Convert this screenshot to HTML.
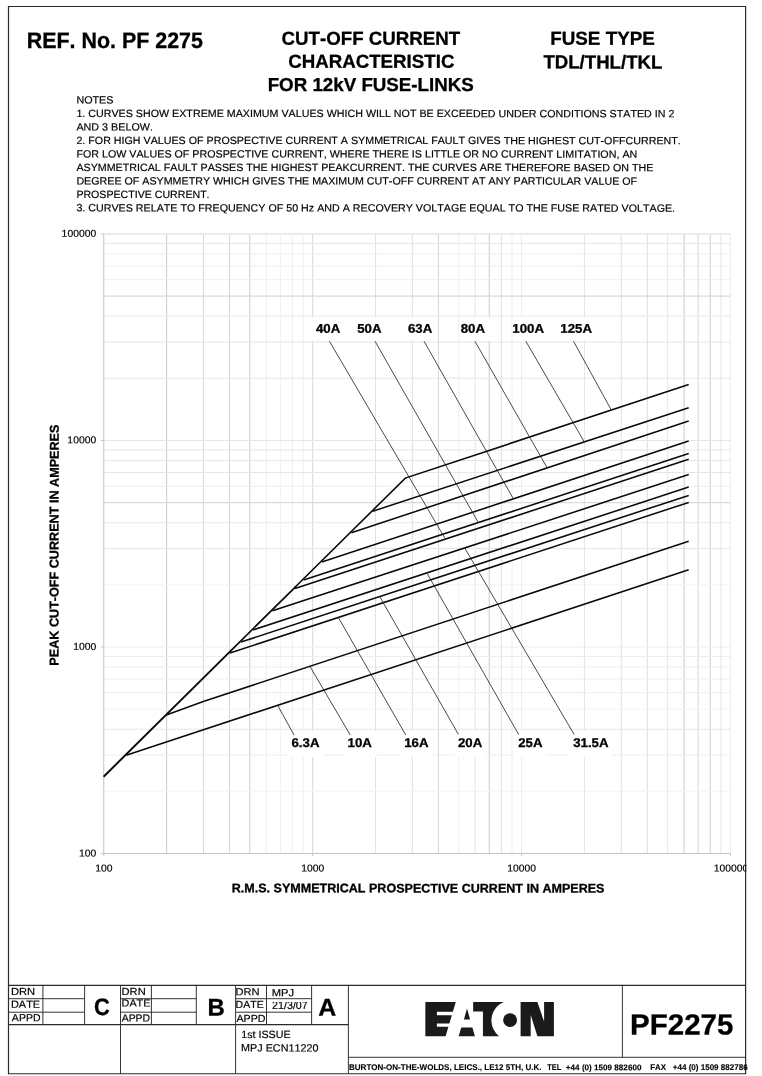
<!DOCTYPE html>
<html lang="en"><head><meta charset="utf-8"><title>PF2275 Cut-off current characteristic</title>
<style>
html,body{margin:0;padding:0;background:#fff;}
body{width:762px;height:1076px;overflow:hidden;position:relative;}
svg{position:absolute;left:0;top:0;display:block;}
text{font-family:"Liberation Sans",sans-serif;fill:#000;font-kerning:none;white-space:pre;text-rendering:geometricPrecision;stroke:#000;stroke-width:0.18px;}
.b{font-weight:bold;stroke-width:0.3px;}
</style></head><body>
<svg width="762" height="1076" viewBox="0 0 762 1076">
<rect x="0" y="0" width="762" height="1076" fill="#fff"/>
<g fill="none" stroke-width="0.85">
<path d="M166.64 233.95V853.50" stroke="#c2c2c2"/>
<path d="M203.43 233.95V853.50" stroke="#d0d0d0"/>
<path d="M229.53 233.95V853.50" stroke="#d0d0d0"/>
<path d="M249.78 233.95V853.50" stroke="#c2c2c2"/>
<path d="M266.32 233.95V853.50" stroke="#ebebeb"/>
<path d="M280.31 233.95V853.50" stroke="#ebebeb"/>
<path d="M292.42 233.95V853.50" stroke="#ebebeb"/>
<path d="M303.11 233.95V853.50" stroke="#ebebeb"/>
<path d="M312.67 233.95V853.50" stroke="#d0d0d0"/>
<path d="M375.56 233.95V853.50" stroke="#d9d9d9"/>
<path d="M412.35 233.95V853.50" stroke="#d9d9d9"/>
<path d="M438.45 233.95V853.50" stroke="#d0d0d0"/>
<path d="M458.69 233.95V853.50" stroke="#ebebeb"/>
<path d="M475.24 233.95V853.50" stroke="#e2e2e2"/>
<path d="M489.22 233.95V853.50" stroke="#c2c2c2"/>
<path d="M501.34 233.95V853.50" stroke="#d9d9d9"/>
<path d="M512.02 233.95V853.50" stroke="#ebebeb"/>
<path d="M521.58 233.95V853.50" stroke="#ebebeb"/>
<path d="M584.47 233.95V853.50" stroke="#e2e2e2"/>
<path d="M621.26 233.95V853.50" stroke="#d9d9d9"/>
<path d="M647.36 233.95V853.50" stroke="#d9d9d9"/>
<path d="M667.61 233.95V853.50" stroke="#e2e2e2"/>
<path d="M684.15 233.95V853.50" stroke="#c2c2c2"/>
<path d="M698.14 233.95V853.50" stroke="#d0d0d0"/>
<path d="M710.25 233.95V853.50" stroke="#c2c2c2"/>
<path d="M720.94 233.95V853.50" stroke="#e2e2e2"/>
<path d="M730.50 233.95V853.50" stroke="#ebebeb"/>
</g>
<g fill="none" stroke-width="1.05">
<path d="M103.75 233.95H730.50" stroke="#e6e6e6" stroke-width="1.4"/>
<path d="M103.75 243.40H730.50" stroke="#e6e6e6"/>
<path d="M103.75 253.96H730.50" stroke="#ededed"/>
<path d="M103.75 265.94H730.50" stroke="#ededed"/>
<path d="M103.75 279.77H730.50" stroke="#ededed"/>
<path d="M103.75 296.12H730.50" stroke="#dadada"/>
<path d="M103.75 316.13H730.50" stroke="#ededed"/>
<path d="M103.75 341.93H730.50" stroke="#e6e6e6"/>
<path d="M103.75 378.30H730.50" stroke="#e6e6e6"/>
<path d="M103.75 440.47H730.50" stroke="#e6e6e6"/>
<path d="M103.75 449.92H730.50" stroke="#e6e6e6"/>
<path d="M103.75 460.48H730.50" stroke="#e6e6e6"/>
<path d="M103.75 472.46H730.50" stroke="#e6e6e6"/>
<path d="M103.75 486.28H730.50" stroke="#ededed"/>
<path d="M103.75 502.63H730.50" stroke="#dadada"/>
<path d="M103.75 522.65H730.50" stroke="#e6e6e6"/>
<path d="M103.75 548.45H730.50" stroke="#e6e6e6"/>
<path d="M103.75 584.82H730.50" stroke="#f3f3f3"/>
<path d="M103.75 646.98H730.50" stroke="#ededed"/>
<path d="M103.75 656.43H730.50" stroke="#ededed"/>
<path d="M103.75 667.00H730.50" stroke="#ededed"/>
<path d="M103.75 678.97H730.50" stroke="#ededed"/>
<path d="M103.75 692.80H730.50" stroke="#ededed"/>
<path d="M103.75 709.15H730.50" stroke="#f3f3f3"/>
<path d="M103.75 729.16H730.50" stroke="#e6e6e6"/>
<path d="M103.75 754.97H730.50" stroke="#ededed"/>
<path d="M103.75 791.33H730.50" stroke="#f3f3f3"/>
</g>
<g fill="none" stroke="#c4c4c4" stroke-width="1">
<path d="M103.75 233.95V853.50"/>
<path d="M103.75 853.50H730.50"/>
<path d="M100.75 233.95H103.75"/>
<path d="M103.75 853.50V856.00"/>
<path d="M100.75 440.47H103.75"/>
<path d="M312.67 853.50V856.00"/>
<path d="M100.75 646.98H103.75"/>
<path d="M521.58 853.50V856.00"/>
<path d="M100.75 853.50H103.75"/>
<path d="M730.50 853.50V856.00"/>
</g>
<rect x="311.5" y="317.6" width="32.0" height="23.2" fill="#fff"/>
<rect x="355" y="317.6" width="28" height="23.2" fill="#fff"/>
<rect x="405" y="317.6" width="31" height="23.2" fill="#fff"/>
<rect x="460" y="317.6" width="36" height="23.2" fill="#fff"/>
<rect x="512.8" y="317.6" width="34.200000000000045" height="23.2" fill="#fff"/>
<rect x="558" y="317.6" width="38" height="23.2" fill="#fff"/>
<rect x="288" y="731" width="36" height="26" fill="#fff"/>
<rect x="344" y="731" width="32" height="26" fill="#fff"/>
<rect x="401" y="731" width="31" height="26" fill="#fff"/>
<rect x="455" y="731" width="31" height="26" fill="#fff"/>
<rect x="514" y="731" width="32" height="26" fill="#fff"/>
<rect x="569" y="731" width="43" height="26" fill="#fff"/>
<g fill="none" stroke="#0a0a0a" stroke-width="1.55" stroke-linecap="butt" stroke-linejoin="miter">
<path d="M295 587.27L405.3 478.1L688.7 384.6" stroke-width="1.6"/>
<path d="M230 651.60L296 586.28" stroke-width="1.75"/>
<path d="M103.6 776.7L231 650.61" stroke-width="1.95"/>
<path d="M372.8 511.2L688.7 407.7"/>
<path d="M351.3 532.8L688.7 420.9"/>
<path d="M321.8 562.0L688.7 441.0"/>
<path d="M303.6 579.9L688.7 453.5"/>
<path d="M295.0 588.6L688.7 459.2"/>
<path d="M272.4 610.8L688.7 474.6"/>
<path d="M253.1 629.9L688.7 487.1"/>
<path d="M241.0 642.0L688.7 495.4"/>
<path d="M230.0 653.0L688.7 502.4"/>
<path d="M166.3 714.9L203.3 701.5L688.7 541.2"/>
<path d="M126.2 755.2L688.7 569.8"/>
</g>
<g fill="none" stroke="#1c1c1c" stroke-width="0.8">
<path d="M329.4 341.2L445.0 538.4"/>
<path d="M375.0 341.2L478.5 522.8"/>
<path d="M424.0 341.2L513.3 498.7"/>
<path d="M474.9 341.2L546.7 467.0"/>
<path d="M525.8 341.2L584.2 441.7"/>
<path d="M573.5 341.2L611.4 410.2"/>
<path d="M277.5 705.0L294.1 735.1"/>
<path d="M309.9 666.3L350.3 735.1"/>
<path d="M338.3 617.4L405.8 735.1"/>
<path d="M379.7 596.5L458.4 734.4"/>
<path d="M427.1 573.4L518.7 734.6"/>
<path d="M464.5 547.7L574.2 734.6"/>
</g>
<text transform="matrix(1 0.0005 0 1 0 -0.1641)" class="b" x="316.00" y="332.80" font-size="12.6" textLength="24.27" lengthAdjust="spacingAndGlyphs">40A</text>
<text transform="matrix(1 0.0005 0 1 0 -0.1847)" class="b" x="357.19" y="332.80" font-size="12.6" textLength="24.27" lengthAdjust="spacingAndGlyphs">50A</text>
<text transform="matrix(1 0.0005 0 1 0 -0.2101)" class="b" x="408.02" y="332.80" font-size="12.6" textLength="24.27" lengthAdjust="spacingAndGlyphs">63A</text>
<text transform="matrix(1 0.0005 0 1 0 -0.2365)" class="b" x="460.78" y="332.80" font-size="12.6" textLength="24.27" lengthAdjust="spacingAndGlyphs">80A</text>
<text transform="matrix(1 0.0005 0 1 0 -0.2641)" class="b" x="512.37" y="332.80" font-size="12.6" textLength="31.63" lengthAdjust="spacingAndGlyphs">100A</text>
<text transform="matrix(1 0.0005 0 1 0 -0.2881)" class="b" x="560.37" y="332.80" font-size="12.6" textLength="31.63" lengthAdjust="spacingAndGlyphs">125A</text>
<text transform="matrix(1 0.0005 0 1 0 -0.1527)" class="b" x="291.52" y="747.10" font-size="12.6" textLength="27.95" lengthAdjust="spacingAndGlyphs">6.3A</text>
<text transform="matrix(1 0.0005 0 1 0 -0.1799)" class="b" x="347.57" y="747.10" font-size="12.6" textLength="24.27" lengthAdjust="spacingAndGlyphs">10A</text>
<text transform="matrix(1 0.0005 0 1 0 -0.2082)" class="b" x="404.27" y="747.10" font-size="12.6" textLength="24.27" lengthAdjust="spacingAndGlyphs">16A</text>
<text transform="matrix(1 0.0005 0 1 0 -0.2350)" class="b" x="457.94" y="747.10" font-size="12.6" textLength="24.27" lengthAdjust="spacingAndGlyphs">20A</text>
<text transform="matrix(1 0.0005 0 1 0 -0.2652)" class="b" x="518.24" y="747.10" font-size="12.6" textLength="24.27" lengthAdjust="spacingAndGlyphs">25A</text>
<text transform="matrix(1 0.0005 0 1 0 -0.2954)" class="b" x="573.20" y="747.10" font-size="12.6" textLength="35.30" lengthAdjust="spacingAndGlyphs">31.5A</text>
<text transform="matrix(1 0.0005 0 1 0 -0.0395)" x="61.60" y="236.85" font-size="10" textLength="34.70" lengthAdjust="spacingAndGlyphs">100000</text>
<text transform="matrix(1 0.0005 0 1 0 -0.0409)" x="67.39" y="443.37" font-size="10" textLength="28.92" lengthAdjust="spacingAndGlyphs">10000</text>
<text transform="matrix(1 0.0005 0 1 0 -0.0424)" x="73.17" y="649.88" font-size="10" textLength="23.14" lengthAdjust="spacingAndGlyphs">1000</text>
<text transform="matrix(1 0.0005 0 1 0 -0.0438)" x="78.95" y="856.40" font-size="10" textLength="17.35" lengthAdjust="spacingAndGlyphs">100</text>
<text transform="matrix(1 0.0005 0 1 0 -0.0519)" x="95.17" y="871.4" font-size="10" textLength="17.35" lengthAdjust="spacingAndGlyphs">100</text>
<text transform="matrix(1 0.0005 0 1 0 -0.1564)" x="301.20" y="871.4" font-size="10" textLength="23.14" lengthAdjust="spacingAndGlyphs">1000</text>
<text transform="matrix(1 0.0005 0 1 0 -0.2608)" x="507.22" y="871.4" font-size="10" textLength="28.92" lengthAdjust="spacingAndGlyphs">10000</text>
<clipPath id="rc"><rect x="700" y="860" width="46.4" height="16"/></clipPath>
<text transform="matrix(1 0.0005 0 1 0 -0.3655)" x="713.65" y="871.4" font-size="10" textLength="34.70" lengthAdjust="spacingAndGlyphs" clip-path="url(#rc)">100000</text>
<text transform="matrix(1 0.0005 0 1 0 -0.2091)" class="b" x="231.76" y="892.40" font-size="12.4" textLength="372.73" lengthAdjust="spacingAndGlyphs">R.M.S. SYMMETRICAL PROSPECTIVE CURRENT IN AMPERES</text>
<text class="b" transform="translate(58.6 664.8) rotate(-90) matrix(1 0.0005 0 1 0 -0.0598)" x="-0.84" y="0" font-size="12.8" textLength="241.04" lengthAdjust="spacingAndGlyphs">PEAK CUT-OFF CURRENT IN AMPERES</text>
<text transform="matrix(1 0.0005 0 1 0 -0.0574)" class="b" x="26.67" y="48.30" font-size="22.3" textLength="176.23" lengthAdjust="spacingAndGlyphs">REF. No. PF 2275</text>
<text transform="matrix(1 0.0005 0 1 0 -0.1854)" class="b" x="281.53" y="44.70" font-size="18.8" textLength="178.67" lengthAdjust="spacingAndGlyphs">CUT-OFF CURRENT</text>
<text transform="matrix(1 0.0005 0 1 0 -0.1856)" class="b" x="288.13" y="67.80" font-size="18.8" textLength="166.28" lengthAdjust="spacingAndGlyphs">CHARACTERISTIC</text>
<text transform="matrix(1 0.0005 0 1 0 -0.1854)" class="b" x="267.65" y="91.00" font-size="18.8" textLength="206.19" lengthAdjust="spacingAndGlyphs">FOR 12kV FUSE-LINKS</text>
<text transform="matrix(1 0.0005 0 1 0 -0.3013)" class="b" x="550.24" y="44.80" font-size="18.8" textLength="104.59" lengthAdjust="spacingAndGlyphs">FUSE TYPE</text>
<text transform="matrix(1 0.0005 0 1 0 -0.3014)" class="b" x="543.39" y="68.40" font-size="18.8" textLength="118.98" lengthAdjust="spacingAndGlyphs">TDL/THL/TKL</text>
<text transform="matrix(1 0.0005 0 1 0 -0.0475)" x="76.4" y="103.60" font-size="10.5" textLength="37.09" lengthAdjust="spacingAndGlyphs">NOTES</text>
<text transform="matrix(1 0.0005 0 1 0 -0.1877)" x="76.4" y="117.09" font-size="10.5" textLength="598.04" lengthAdjust="spacingAndGlyphs">1. CURVES SHOW EXTREME MAXIMUM VALUES WHICH WILL NOT BE EXCEEDED UNDER CONDITIONS STATED IN 2</text>
<text transform="matrix(1 0.0005 0 1 0 -0.0573)" x="76.4" y="130.58" font-size="10.5" textLength="76.58" lengthAdjust="spacingAndGlyphs">AND 3 BELOW.</text>
<text transform="matrix(1 0.0005 0 1 0 -0.1893)" x="76.4" y="144.07" font-size="10.5" textLength="604.38" lengthAdjust="spacingAndGlyphs">2. FOR HIGH VALUES OF PROSPECTIVE CURRENT A SYMMETRICAL FAULT GIVES THE HIGHEST CUT-OFFCURRENT.</text>
<text transform="matrix(1 0.0005 0 1 0 -0.1784)" x="76.4" y="157.56" font-size="10.5" textLength="560.87" lengthAdjust="spacingAndGlyphs">FOR LOW VALUES OF PROSPECTIVE CURRENT, WHERE THERE IS LITTLE OR NO CURRENT LIMITATION, AN</text>
<text transform="matrix(1 0.0005 0 1 0 -0.1824)" x="76.4" y="171.05" font-size="10.5" textLength="576.96" lengthAdjust="spacingAndGlyphs">ASYMMETRICAL FAULT PASSES THE HIGHEST PEAKCURRENT. THE CURVES ARE THEREFORE BASED ON THE</text>
<text transform="matrix(1 0.0005 0 1 0 -0.1784)" x="76.4" y="184.54" font-size="10.5" textLength="560.73" lengthAdjust="spacingAndGlyphs">DEGREE OF ASYMMETRY WHICH GIVES THE MAXIMUM CUT-OFF CURRENT AT ANY PARTICULAR VALUE OF</text>
<text transform="matrix(1 0.0005 0 1 0 -0.0715)" x="76.4" y="198.03" font-size="10.5" textLength="133.17" lengthAdjust="spacingAndGlyphs">PROSPECTIVE CURRENT.</text>
<text transform="matrix(1 0.0005 0 1 0 -0.1879)" x="76.4" y="211.52" font-size="10.5" textLength="598.68" lengthAdjust="spacingAndGlyphs">3. CURVES RELATE TO FREQUENCY OF 50 Hz AND A RECOVERY VOLTAGE EQUAL TO THE FUSE RATED VOLTAGE.</text>
<g fill="none" stroke="#2a2a2a" stroke-width="1.2">
<path d="M8.5 1074.3V6.5H745.6V1074.3"/>
<path d="M8.5 985.35H745.6"/>
<path d="M8.5 1073.75H745.6"/>
<path d="M8.5 1024.6H348.4"/>
</g>
<g fill="none" stroke="#2a2a2a" stroke-width="0.95">
<path d="M8.5 998.7H84.6M8.5 1012.2H84.6"/>
<path d="M120.5 998.7H196.3M120.5 1012.2H196.3"/>
<path d="M235.6 998.7H311.6M235.6 1012.2H311.6"/>
<path d="M42.9 985.35V1024.6"/>
<path d="M84.6 985.35V1024.6"/>
<path d="M151.4 985.35V1024.6"/>
<path d="M196.3 985.35V1024.6"/>
<path d="M266.5 985.35V1024.6"/>
<path d="M311.6 985.35V1024.6"/>
<path d="M120.5 985.35V1074"/>
<path d="M235.6 985.35V1074"/>
<path d="M348.4 985.35V1074"/>
<path d="M348.4 1057.3H745.6"/>
<path d="M622.4 985.35V1057.3"/>
</g>
<text transform="matrix(1 0.0005 0 1 0 -0.0115)" x="10.98" y="995.10" font-size="10.3" textLength="24.23" lengthAdjust="spacingAndGlyphs">DRN</text>
<text transform="matrix(1 0.0005 0 1 0 -0.0128)" x="11.01" y="1007.80" font-size="10.3" textLength="29.06" lengthAdjust="spacingAndGlyphs">DATE</text>
<text transform="matrix(1 0.0005 0 1 0 -0.0131)" x="11.88" y="1021.30" font-size="10.3" textLength="28.62" lengthAdjust="spacingAndGlyphs">APPD</text>
<text transform="matrix(1 0.0005 0 1 0 -0.0668)" x="121.59" y="995.10" font-size="10.3" textLength="24.12" lengthAdjust="spacingAndGlyphs">DRN</text>
<text transform="matrix(1 0.0005 0 1 0 -0.0680)" x="121.62" y="1006.60" font-size="10.3" textLength="28.75" lengthAdjust="spacingAndGlyphs">DATE</text>
<text transform="matrix(1 0.0005 0 1 0 -0.0679)" x="121.68" y="1021.50" font-size="10.3" textLength="28.42" lengthAdjust="spacingAndGlyphs">APPD</text>
<text transform="matrix(1 0.0005 0 1 0 -0.1238)" x="235.59" y="995.35" font-size="10.3" textLength="24.01" lengthAdjust="spacingAndGlyphs">DRN</text>
<text transform="matrix(1 0.0005 0 1 0 -0.1249)" x="235.63" y="1008.10" font-size="10.3" textLength="28.22" lengthAdjust="spacingAndGlyphs">DATE</text>
<text transform="matrix(1 0.0005 0 1 0 -0.1255)" x="236.48" y="1021.90" font-size="10.3" textLength="29.13" lengthAdjust="spacingAndGlyphs">APPD</text>
<text transform="matrix(1 0.0005 0 1 0 -0.1414)" x="271.68" y="996.30" font-size="10.3" textLength="22.35" lengthAdjust="spacingAndGlyphs">MPJ</text>
<clipPath id="dc"><rect x="267" y="1002.1" width="44" height="9.5"/></clipPath>
<text transform="matrix(1 0.0005 0 1 0 -0.1449)" x="271.96" y="1009.30" font-size="11.2" textLength="35.88" lengthAdjust="spacingAndGlyphs" clip-path="url(#dc)">21/3/07</text>
<text transform="matrix(1 0.0005 0 1 0 -0.0509)" class="b" x="93.90" y="1015.40" font-size="23.7" textLength="15.80" lengthAdjust="spacingAndGlyphs">C</text>
<text transform="matrix(1 0.0005 0 1 0 -0.1081)" class="b" x="207.60" y="1015.60" font-size="24.1" textLength="17.29" lengthAdjust="spacingAndGlyphs">B</text>
<text transform="matrix(1 0.0005 0 1 0 -0.1636)" class="b" x="318.28" y="1015.60" font-size="24.1" textLength="17.98" lengthAdjust="spacingAndGlyphs">A</text>
<text transform="matrix(1 0.0005 0 1 0 -0.1330)" x="241.18" y="1037.90" font-size="10.5" textLength="49.48" lengthAdjust="spacingAndGlyphs">1st ISSUE</text>
<text transform="matrix(1 0.0005 0 1 0 -0.1399)" x="241.12" y="1051.40" font-size="10.5" textLength="77.31" lengthAdjust="spacingAndGlyphs">MPJ ECN11220</text>
<text transform="matrix(1 0.0005 0 1 0 -0.3409)" class="b" x="630.13" y="1034.50" font-size="29.2" textLength="103.29" lengthAdjust="spacingAndGlyphs">PF2275</text>
<text transform="matrix(1 0.0005 0 1 0 -0.2226)" class="b" x="348.96" y="1070.30" font-size="8.3" textLength="192.59" lengthAdjust="spacingAndGlyphs" style="stroke-width:0.12px">BURTON-ON-THE-WOLDS, LEICS., LE12 5TH, U.K.</text>
<text transform="matrix(1 0.0005 0 1 0 -0.2771)" class="b" x="547.22" y="1070.30" font-size="8.3" textLength="14.01" lengthAdjust="spacingAndGlyphs" style="stroke-width:0.12px">TEL</text>
<text transform="matrix(1 0.0005 0 1 0 -0.3018)" class="b" x="565.86" y="1070.30" font-size="8.3" textLength="75.57" lengthAdjust="spacingAndGlyphs" style="stroke-width:0.12px">+44 (0) 1509 882600</text>
<text transform="matrix(1 0.0005 0 1 0 -0.3290)" class="b" x="650.17" y="1070.30" font-size="8.3" textLength="15.80" lengthAdjust="spacingAndGlyphs" style="stroke-width:0.12px">FAX</text>
<text transform="matrix(1 0.0005 0 1 0 -0.3551)" class="b" x="672.76" y="1070.30" font-size="8.3" textLength="74.93" lengthAdjust="spacingAndGlyphs" style="stroke-width:0.12px">+44 (0) 1509 882786</text>
<g fill="#1a1a1a" role="img" aria-label="EATON"><title>EATON</title>
<path d="M425.35 1002H455.8L452.87 1011.8H436.9V1015.2H451.86L449.36 1023.6H436.9V1026.7H448.43L445.6 1036.3H425.35Z"/>
<path d="M467 1008.5L470.05 1019.4H463.95Z"/>
<path d="M461.3 1027.5H472.4L474.9 1036.3H458.6Z"/>
<path d="M473.15 1002H503.8A20 20 0 0 0 499.2 1036.3H482.95V1011.4H473.15Z"/>
<circle cx="510.1" cy="1020.2" r="6.9"/>
<path d="M520.6 1002H537.4L544.1 1021.6V1002H553.9V1036.3H537.4L530.7 1014.9V1036.3H520.6Z"/>
</g>
</svg></body></html>
